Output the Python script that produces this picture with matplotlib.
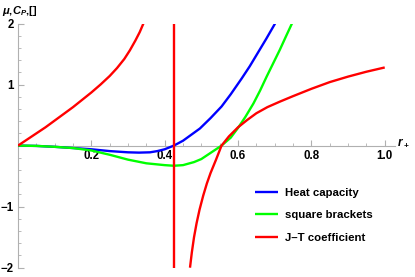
import matplotlib
matplotlib.use("Agg")
import matplotlib.pyplot as plt
from matplotlib.ticker import MultipleLocator

plt.rcParams['font.family'] = ['Liberation Sans', 'DejaVu Sans']
plt.rcParams['font.weight'] = 'bold'
plt.rcParams['mathtext.fontset'] = 'custom'
plt.rcParams['mathtext.rm'] = 'Liberation Sans:bold'
plt.rcParams['mathtext.it'] = 'Liberation Sans:bold:italic'

# heat capacity (blue)
r_heat = [0.0, 0.05, 0.1, 0.15, 0.2, 0.25, 0.3, 0.33, 0.36, 0.38, 0.4, 0.425,
          0.45, 0.496, 0.525, 0.555, 0.58, 0.61, 0.632, 0.653, 0.677, 0.701]
heat = [0.0, -0.005, -0.02, -0.04, -0.06, -0.09, -0.11, -0.115, -0.11, -0.09, -0.06, 0.0,
        0.08, 0.28, 0.45, 0.64, 0.84, 1.10, 1.30, 1.51, 1.75, 2.0]

# square brackets (green)
r_sq = [0.0, 0.05, 0.1, 0.15, 0.2, 0.25, 0.3, 0.35, 0.4, 0.425, 0.45, 0.48, 0.5, 0.52,
        0.54, 0.555, 0.58, 0.6, 0.62, 0.642, 0.66, 0.678, 0.696, 0.714, 0.73, 0.747]
sq = [0.0, -0.005, -0.02, -0.04, -0.08, -0.15, -0.23, -0.29, -0.32, -0.33, -0.32, -0.27, -0.22, -0.14,
      -0.06, 0.0, 0.13, 0.29, 0.47, 0.69, 0.90, 1.13, 1.35, 1.57, 1.78, 2.0]

# J-T coefficient (red), two branches around the pole
r_jt_left = [0.0, 0.025, 0.05, 0.075, 0.1, 0.125, 0.15, 0.175, 0.2, 0.225, 0.25, 0.27,
             0.29, 0.305, 0.32, 0.332, 0.342]
jt_left = [0.0, 0.1, 0.2, 0.3, 0.41, 0.52, 0.63, 0.75, 0.87, 1.0, 1.14, 1.27,
           1.42, 1.56, 1.72, 1.86, 2.0]
r_jt_right = [0.469, 0.474, 0.48, 0.487, 0.495, 0.505, 0.515, 0.525, 0.54, 0.555, 0.575, 0.6,
              0.625, 0.65, 0.68, 0.714, 0.75, 0.8, 0.85, 0.9, 0.95, 1.0]
jt_right = [-2.0, -1.75, -1.5, -1.27, -1.05, -0.82, -0.62, -0.45, -0.23, 0.0, 0.15, 0.30,
            0.42, 0.53, 0.63, 0.72, 0.81, 0.93, 1.04, 1.13, 1.21, 1.28]
r_pole = 0.425

fig = plt.figure(figsize=(4.15, 2.77), dpi=100)
ax = fig.add_axes([18 / 415, 9.3 / 277, 377 / 415, 244.2 / 277])

lw = 1.7
kw = dict(lw=lw, solid_joinstyle='round', solid_capstyle='butt')
ax.plot(r_heat, heat, color='#0000ff', label='Heat capacity', **kw)
ax.plot(r_sq, sq, color='#00ff00', label='square brackets', **kw)
ax.plot(r_jt_left, jt_left, color='#ff0000', label='J\u2013T coefficient', **kw)
ax.plot(r_jt_right, jt_right, color='#ff0000', **kw)
ax.axvline(r_pole, color='#ff0000', lw=lw)

ax.set_xlim(0, 1.028)
ax.set_ylim(-2, 2)

for s in ['top', 'right']:
    ax.spines[s].set_visible(False)
ax.spines['bottom'].set_position(('data', 0))
ax.spines['left'].set_position(('data', 0))
for s in ['bottom', 'left']:
    ax.spines[s].set_color('#b0b0b0')
    ax.spines[s].set_linewidth(0.8)
    ax.spines[s].set_zorder(0)

ax.set_xticks([0.2, 0.4, 0.6, 0.8, 1.0])
ax.set_xticklabels(['0.2', '0.4', '0.6', '0.8', '1.0'])
ax.set_yticks([-2, -1, 1, 2])
ax.set_yticklabels(['\u22122', '\u22121', '1', '2'])
ax.xaxis.set_minor_locator(MultipleLocator(0.05))
ax.yaxis.set_minor_locator(MultipleLocator(0.2))
ax.tick_params(axis='both', which='both', direction='in', color='#b0b0b0', labelsize=8.3)
ax.tick_params(axis='both', which='major', length=4, width=0.8, pad=3)
ax.tick_params(axis='both', which='minor', length=2.2, width=0.6)

fig.text(1.5 / 415, 1 - 11 / 277, r'$\mu$,$C_P$,[]', fontsize=8, va='center', ha='left')
fig.text(397 / 415, 1 - 143 / 277, r'$r_+$', fontsize=8.5, va='center', ha='left')

ax.legend(loc='upper left', bbox_to_anchor=(250 / 415, 1 - 183 / 277),
          bbox_transform=fig.transFigure, frameon=False, fontsize=8.2,
          handlelength=2.1, handletextpad=0.55, labelspacing=1.1, borderaxespad=0)

fig.savefig('out.png', dpi=100)
